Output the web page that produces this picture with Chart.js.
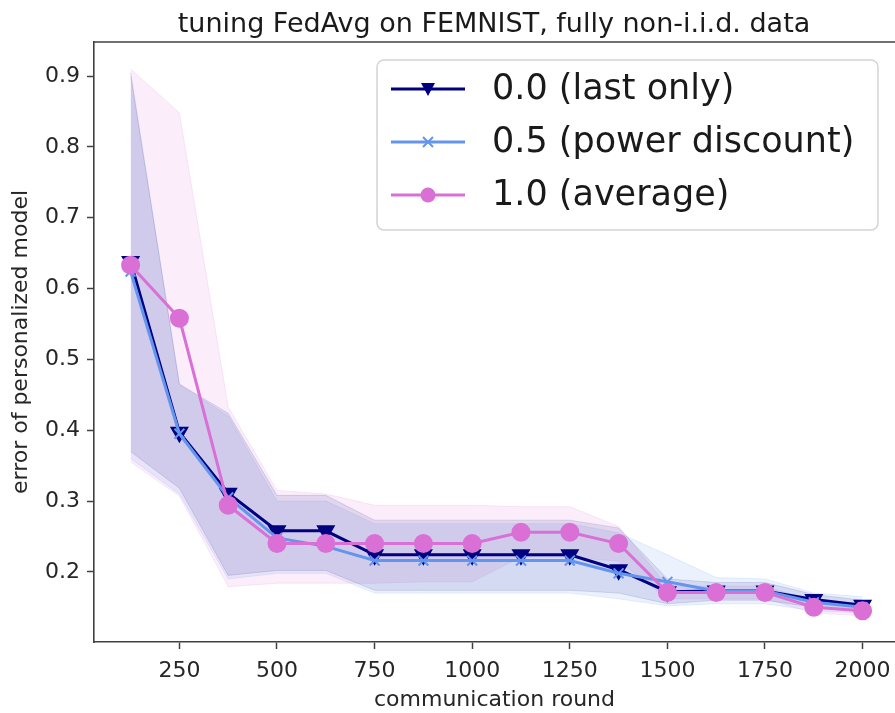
<!DOCTYPE html>
<html lang="en">
<head>
    <meta charset="UTF-8">
    <title>tuning FedAvg on FEMNIST</title>
    <script src="https://cdn.jsdelivr.net/npm/chart.js"></script>
</head>
<body>
    <style>
        body { margin: 0; background: #ffffff; }
        .main { width: 895px; height: 713px; position: relative; }
    </style>
    <div class="main">
        <canvas id="fedChart"></canvas>
    </div>
    <script>
        // communication rounds
        const rounds = [125, 250, 375, 500, 625, 750, 875, 1000, 1125, 1250, 1375, 1500, 1625, 1750, 1875, 2000];
        const xTicks = [250, 500, 750, 1000, 1250, 1500, 1750, 2000];
        const yTicks = [0.2, 0.3, 0.4, 0.5, 0.6, 0.7, 0.8, 0.9];

        // 0.0 (last only)
        const lastOnly      = [0.638, 0.397, 0.311, 0.258, 0.258, 0.224, 0.224, 0.224, 0.224, 0.224, 0.203, 0.172, 0.173, 0.173, 0.161, 0.153];
        const lastOnlyHigh  = [0.905, 0.465, 0.424, 0.308, 0.308, 0.273, 0.273, 0.273, 0.273, 0.273, 0.262, 0.190, 0.185, 0.185, 0.168, 0.160];
        const lastOnlyLow   = [0.370, 0.318, 0.195, 0.202, 0.202, 0.174, 0.174, 0.174, 0.174, 0.174, 0.170, 0.155, 0.160, 0.160, 0.150, 0.146];
        // 0.5 (power discount)
        const powerDisc     = [0.624, 0.395, 0.305, 0.248, 0.236, 0.216, 0.216, 0.216, 0.216, 0.216, 0.198, 0.186, 0.173, 0.173, 0.157, 0.150];
        const powerDiscHigh = [0.900, 0.465, 0.420, 0.300, 0.300, 0.268, 0.268, 0.268, 0.268, 0.268, 0.255, 0.224, 0.192, 0.190, 0.170, 0.165];
        const powerDiscLow  = [0.360, 0.310, 0.190, 0.198, 0.198, 0.170, 0.170, 0.170, 0.170, 0.170, 0.162, 0.152, 0.155, 0.155, 0.145, 0.142];
        // 1.0 (average)
        const average       = [0.633, 0.558, 0.294, 0.240, 0.240, 0.240, 0.240, 0.240, 0.256, 0.256, 0.240, 0.171, 0.171, 0.171, 0.150, 0.145];
        const averageHigh   = [0.910, 0.848, 0.433, 0.315, 0.310, 0.294, 0.294, 0.294, 0.292, 0.292, 0.264, 0.180, 0.180, 0.180, 0.158, 0.152];
        const averageLow    = [0.355, 0.307, 0.179, 0.184, 0.184, 0.184, 0.186, 0.186, 0.221, 0.221, 0.215, 0.162, 0.162, 0.162, 0.142, 0.138];

        const seriesNames = ['0.0 (last only)', '0.5 (power discount)', '1.0 (average)'];
        const chartTitle = 'tuning FedAvg on FEMNIST, fully non-i.i.d. data';

        const FONT = "'DejaVu Sans', sans-serif";
        const pts = arr => arr.map((v, i) => ({ x: rounds[i], y: v }));

        function band(lo, hi, fillColor, edgeColor) {
            return [
                { data: pts(lo), borderColor: edgeColor, borderWidth: 1, pointRadius: 0, fill: false, order: 10 },
                { data: pts(hi), borderColor: edgeColor, borderWidth: 1, pointRadius: 0, fill: '-1', backgroundColor: fillColor, order: 10 }
            ];
        }

        const lineSets = [
            { label: seriesNames[0], data: pts(lastOnly), borderColor: '#000080', backgroundColor: '#000080',
              borderWidth: 3, pointStyle: 'triangle', pointRotation: 180, pointRadius: 8, fill: false, order: 2 },
            { label: seriesNames[1], data: pts(powerDisc), borderColor: '#6495ED', backgroundColor: '#6495ED',
              borderWidth: 3, pointStyle: 'crossRot', pointRadius: 7, pointBorderWidth: 2, fill: false, order: 1 },
            { label: seriesNames[2], data: pts(average), borderColor: '#DA70D6', backgroundColor: '#DA70D6',
              borderWidth: 3, pointStyle: 'circle', pointRadius: 8, fill: false, order: 0 }
        ];

        // title, top frame line and matplotlib-like legend box
        const framePlugin = {
            id: 'frame',
            afterDraw(chart) {
                const { ctx, chartArea: a } = chart;
                ctx.save();
                ctx.fillStyle = '#1a1a1a';
                ctx.font = '27px ' + FONT;
                ctx.textAlign = 'center';
                ctx.textBaseline = 'alphabetic';
                ctx.fillText(chartTitle, 494, 32);

                ctx.strokeStyle = '#404040';
                ctx.lineWidth = 1.6;
                ctx.beginPath();
                ctx.moveTo(a.left, a.top);
                ctx.lineTo(a.right, a.top);
                ctx.stroke();

                // legend
                const bx = 377, by = 60, bw = 501, bh = 170, r = 7;
                ctx.beginPath();
                ctx.roundRect(bx, by, bw, bh, r);
                ctx.fillStyle = 'rgba(255,255,255,0.85)';
                ctx.fill();
                ctx.strokeStyle = '#d4d4d4';
                ctx.lineWidth = 1.5;
                ctx.stroke();

                const rows = [89, 142, 195];
                ctx.font = '35px ' + FONT;
                ctx.textAlign = 'left';
                ctx.textBaseline = 'middle';
                rows.forEach((y, i) => {
                    const ds = lineSets[i];
                    ctx.strokeStyle = ds.borderColor;
                    ctx.fillStyle = ds.borderColor;
                    ctx.lineWidth = 3;
                    ctx.beginPath();
                    ctx.moveTo(391, y);
                    ctx.lineTo(465, y);
                    ctx.stroke();
                    const mx = 428;
                    if (i === 0) {
                        ctx.beginPath();
                        ctx.moveTo(mx - 7, y - 6);
                        ctx.lineTo(mx + 7, y - 6);
                        ctx.lineTo(mx, y + 7);
                        ctx.closePath();
                        ctx.fill();
                    } else if (i === 1) {
                        ctx.lineWidth = 2;
                        ctx.beginPath();
                        ctx.moveTo(mx - 5, y - 5); ctx.lineTo(mx + 5, y + 5);
                        ctx.moveTo(mx + 5, y - 5); ctx.lineTo(mx - 5, y + 5);
                        ctx.stroke();
                    } else {
                        ctx.beginPath();
                        ctx.arc(mx, y, 7.5, 0, Math.PI * 2);
                        ctx.fill();
                    }
                    ctx.fillStyle = '#1a1a1a';
                    ctx.fillText(seriesNames[i], 492, y + 1);
                });
                ctx.restore();
            }
        };

        const ctx = document.getElementById('fedChart').getContext('2d');
        new Chart(ctx, {
            type: 'line',
            data: {
                datasets: [
                    ...lineSets,
                    ...band(lastOnlyLow, lastOnlyHigh, 'rgba(0,0,128,0.10)', 'rgba(0,0,128,0.12)'),
                    ...band(powerDiscLow, powerDiscHigh, 'rgba(100,149,237,0.12)', 'rgba(100,149,237,0.15)'),
                    ...band(averageLow, averageHigh, 'rgba(218,112,214,0.12)', 'rgba(218,112,214,0.15)')
                ]
            },
            options: {
                responsive: true,
                maintainAspectRatio: false,
                animation: false,
                layout: { autoPadding: false, padding: { left: 0, right: 0, top: 42, bottom: 0 } },
                plugins: {
                    legend: { display: false },
                    tooltip: { enabled: false }
                },
                scales: {
                    x: {
                        type: 'linear',
                        min: 31.25,
                        max: 2083,
                        afterBuildTicks: s => { s.ticks = xTicks.map(v => ({ value: v })); },
                        afterFit: s => { s.height = 71; s.paddingLeft = 0; s.paddingRight = 0; },
                        grid: { drawOnChartArea: false, drawTicks: true, tickLength: 7, color: '#404040', tickWidth: 1.5 },
                        border: { display: true, color: '#404040', width: 1.6 },
                        ticks: { autoSkip: false, maxRotation: 0, color: '#262626', padding: 9,
                                 font: { family: FONT, size: 22 }, callback: v => String(v) },
                        title: { display: true, text: 'communication round', color: '#262626',
                                 font: { family: FONT, size: 22 }, padding: { top: 0, bottom: 0 } }
                    },
                    y: {
                        min: 0.101,
                        max: 0.948,
                        afterBuildTicks: s => { s.ticks = yTicks.map(v => ({ value: v })); },
                        afterFit: s => { s.width = 94; },
                        grid: { drawOnChartArea: false, drawTicks: true, tickLength: 7, color: '#404040', tickWidth: 1.5 },
                        border: { display: true, color: '#404040', width: 1.6 },
                        ticks: { color: '#262626', padding: 7, font: { family: FONT, size: 22 },
                                 callback: v => v.toFixed(1) },
                        title: { display: true, text: 'error of personalized model', color: '#262626',
                                 font: { family: FONT, size: 22 }, padding: { top: 8, bottom: 0 } }
                    }
                }
            },
            plugins: [framePlugin]
        });
    </script>
</body>
</html>
